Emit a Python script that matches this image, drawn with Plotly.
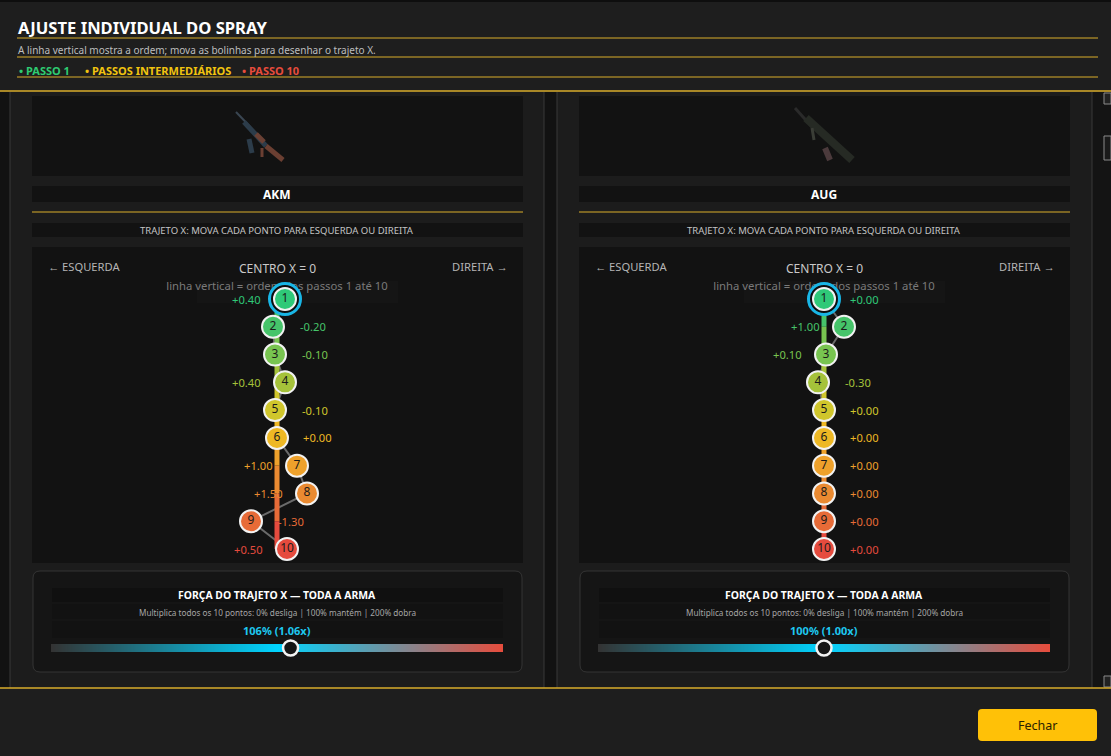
import plotly.graph_objects as go

W, H = 1111, 756
FONT = "Noto Sans"
YEL = "#d9ad2b"

# ---- data ----
steps = [1, 2, 3, 4, 5, 6, 7, 8, 9, 10]
akm_offsets = [0.40, -0.20, -0.10, 0.40, -0.10, 0.00, 1.00, 1.50, -1.30, 0.50]
aug_offsets = [0.00, 1.00, 0.10, -0.30, 0.00, 0.00, 0.00, 0.00, 0.00, 0.00]
step_colors = ["#2fc978", "#46c46a", "#78c450", "#a5c23a", "#d0c62c",
               "#eeb824", "#eea12b", "#ea8a31", "#e76b37", "#e54b3e"]
weapons = ["AKM", "AUG"]
strengths = [106, 100]  # percent
strength_ticks = [0, 100, 200]

legend_labels = ["PASSO 1", "PASSOS INTERMEDIÁRIOS", "PASSO 10"]
legend_colors = ["#2ecc71", "#f1c40f", "#e74c3c"]
legend_x = [17, 83, 240]

title = "AJUSTE INDIVIDUAL DO SPRAY"
subtitle = "A linha vertical mostra a ordem; mova as bolinhas para desenhar o trajeto X."

# panel geometry (pixels)
box_left = [32, 579]
box_right = [523, 1070]
PX_PER_UNIT = 20
STEP_TOP, STEP_BOTTOM = 299, 549
CHART_TOP, CHART_BOTTOM = 247, 563


def rrect(x0, y0, x1, y1, r):
    return (f"M{x0+r},{y0} L{x1-r},{y0} Q{x1},{y0} {x1},{y0+r} L{x1},{y1-r} "
            f"Q{x1},{y1} {x1-r},{y1} L{x0+r},{y1} Q{x0},{y1} {x0},{y1-r} "
            f"L{x0},{y0+r} Q{x0},{y0} {x0+r},{y0} Z")


def xdom(x0, x1):
    return [x0 / W, x1 / W]


def ydom(y0, y1):
    return [1 - y1 / H, 1 - y0 / H]


fig = go.Figure()
shapes = []
ann = []


def rect(x0, y0, x1, y1, fill, line=None, lw=0):
    shapes.append(dict(type="rect", xref="x", yref="y", x0=x0, y0=y0, x1=x1, y1=y1,
                       fillcolor=fill, line=dict(color=line or fill, width=lw), layer="below"))


def hline(y, x0, x1, color, width=1):
    shapes.append(dict(type="line", xref="x", yref="y", x0=x0, x1=x1, y0=y, y1=y,
                       line=dict(color=color, width=width), layer="below"))


def vline(x, y0, y1, color, width=1):
    shapes.append(dict(type="line", xref="x", yref="y", x0=x, x1=x, y0=y0, y1=y1,
                       line=dict(color=color, width=width), layer="below"))


def text(x, y, s, size, color, anchor="center", bold=False):
    ann.append(dict(xref="x", yref="y", x=x, y=y, text=f"<b>{s}</b>" if bold else s,
                    showarrow=False, xanchor=anchor, yanchor="middle",
                    font=dict(family=FONT, size=size, color=color)))


# ---- header ----
rect(0, 0, W, 91, "#1e1e1e")
rect(0, 0, W, 2, "#0e0e0e")
text(16, 27, title, 16.6, "#ffffff", "left", True)
text(16, 50, subtitle, 10, "#bdbdbd", "left")
for lab, col, lx in zip(legend_labels, legend_colors, legend_x):
    text(lx, 70, "• " + lab, 11, col, "left", True)
for yy in [38, 57, 77]:
    hline(yy, 17, 1098, YEL, 1)

# ---- body backgrounds ----
rect(0, 92, 10, 688, "#121212")
rect(544, 92, 557, 688, "#121212")
rect(1092, 92, W, 688, "#141414")
for xx in [10, 544, 557, 1092]:
    vline(xx, 92, 688, "#383838", 1)
hline(91, 0, W, YEL, 1.5)

# scrollbar bits
rect(1104, 93, W, 104, "#222222", "#8a8a8a", 1)
rect(1104, 136, W, 160, "#1a1a1a", "#8a8a8a", 1)
rect(1104, 676, W, 687, "#222222", "#8a8a8a", 1)

# ---- footer ----
rect(0, 689, W, H, "#1e1e1e")
hline(688, 0, W, YEL, 1.5)
shapes.append(dict(type="path", xref="x", yref="y", path=rrect(978, 709, 1097, 741, 4),
                   fillcolor="#ffc107", line=dict(color="#ffc107", width=0), layer="below"))
text(1037.5, 725, "Fechar", 12.5, "#2a2000")

# ---- panels ----
for p, (name, strength) in enumerate(zip(weapons, strengths)):
    bl, br = box_left[p], box_right[p]
    cx = bl + 245
    rect(bl, 96, br, 176, "#121212")
    rect(bl, 186, br, 202, "#121212")
    text(cx, 194, name, 12, "#ffffff", bold=True)
    hline(212, bl, br, YEL, 1.2)
    rect(bl, 223, br, 237, "#121212")
    text(cx, 230, "TRAJETO X: MOVA CADA PONTO PARA ESQUERDA OU DIREITA", 9.5, "#c4c4c4")
    rect(bl, CHART_TOP, br, CHART_BOTTOM, "#121212")
    rect(cx - 80, 281, cx + 121, 303, "#151515")
    text(bl + 14, 266, "← ESQUERDA", 11.2, "#b5b5b5", "left")
    text(br - 13, 266, "DIREITA →", 11.2, "#b5b5b5", "right")
    text(cx, 268, "CENTRO X = 0", 12, "#c9c9c9")

    # slider card
    shapes.append(dict(type="path", xref="x", yref="y", path=rrect(bl + 1, 571, br - 1, 672, 7),
                       fillcolor="#151515", line=dict(color="#343434", width=1), layer="below"))
    rect(bl + 20, 588, br - 20, 602, "#101010")
    rect(bl + 20, 604, br - 20, 619, "#121212")
    rect(bl + 20, 621, br - 20, 638, "#121212")
    text(cx, 595, "FORÇA DO TRAJETO X — TODA A ARMA", 10.4, "#ffffff", bold=True)
    text(cx, 612, "Multiplica todos os 10 pontos: 0% desliga | 100% mantém | 200% dobra", 8.2, "#a6a6a6")
    text(cx, 630, f"{strength}% ({strength / 100:.2f}x)", 11, "#1ec8f0", bold=True)

    # "linha vertical" sits under the circles, so it is a trace on the base axes
    fig.add_trace(go.Scatter(x=[cx], y=[287], mode="text", text=["linha vertical = ordem dos passos 1 até 10"],
                             textfont=dict(family=FONT, size=11.3, color="#7a7a7a"),
                             xaxis="x", yaxis="y", hoverinfo="skip"))

# gun icons (rough drawings)
gun_lines = [
    # AKM
    (236, 112, 262, 139, "#3a4652", 2), (244, 122, 266, 146, "#2c3c4a", 5),
    (256, 134, 264, 142, "#6a4034", 5), (249, 139, 252, 153, "#2c3c4a", 5),
    (266, 146, 283, 160, "#6b3f32", 5), (262, 148, 262, 157, "#6b3f32", 3),
    # AUG
    (795, 108, 812, 127, "#2a2a2a", 3), (806, 118, 852, 160, "#262a24", 8),
    (812, 128, 814, 140, "#3a3d36", 3), (825, 148, 830, 160, "#4b3a3c", 6),
]
for x0, y0, x1, y1, col, lw in gun_lines:
    shapes.append(dict(type="line", xref="x", yref="y", x0=x0, y0=y0, x1=x1, y1=y1,
                       line=dict(color=col, width=lw), layer="below"))

# ---- spray charts ----
step_px = (STEP_BOTTOM - STEP_TOP) / 9
y_range = [10 + (CHART_BOTTOM - STEP_BOTTOM) / step_px, 1 - (STEP_TOP - CHART_TOP) / step_px]
layout_axes = {}
for p, offsets in enumerate([akm_offsets, aug_offsets]):
    ax = str(p + 2)
    bl, br = box_left[p], box_right[p]
    cx = bl + 245
    layout_axes["xaxis" + ax] = dict(domain=xdom(bl, br), range=[-(cx - bl) / PX_PER_UNIT, (br - cx) / PX_PER_UNIT],
                                     visible=False, fixedrange=True, anchor="y" + ax)
    layout_axes["yaxis" + ax] = dict(domain=ydom(CHART_TOP, CHART_BOTTOM), range=y_range,
                                     visible=False, fixedrange=True, anchor="x" + ax)
    xa, ya = "x" + ax, "y" + ax
    # actual trajectory
    fig.add_trace(go.Scatter(x=offsets, y=steps, mode="lines", line=dict(color="#6a6a6a", width=2),
                             xaxis=xa, yaxis=ya, hoverinfo="skip"))
    # order line at the centre
    for i in range(len(steps) - 1):
        fig.add_trace(go.Scatter(x=[0, 0], y=[steps[i], steps[i + 1]], mode="lines",
                                 line=dict(color=step_colors[i + 1], width=5),
                                 xaxis=xa, yaxis=ya, hoverinfo="skip"))
    # selection ring on step 1
    fig.add_trace(go.Scatter(x=[offsets[0]], y=[steps[0]], mode="markers",
                             marker=dict(size=31, color="#0e0e0e", line=dict(color="#19b6e6", width=3)),
                             xaxis=xa, yaxis=ya, hoverinfo="skip", cliponaxis=False))
    fig.add_trace(go.Scatter(x=offsets, y=steps, mode="markers+text", text=[str(s) for s in steps],
                             textposition="middle center",
                             textfont=dict(family=FONT, size=12, color="#1b1b1b"),
                             marker=dict(size=22, color=step_colors, line=dict(color="#f2f2f2", width=2)),
                             xaxis=xa, yaxis=ya, hoverinfo="skip", cliponaxis=False))
    for v, s, col in zip(offsets, steps, step_colors):
        ann.append(dict(xref=xa, yref=ya, x=v, y=s, text=f"{v:+.2f}", showarrow=False,
                        xshift=-39 if v > 0 else 40, font=dict(family=FONT, size=11.2, color=col)))

# ---- strength sliders ----
for p, strength in enumerate(strengths):
    ax = str(p + 4)
    bl, br = box_left[p], box_right[p]
    layout_axes["xaxis" + ax] = dict(domain=xdom(bl + 19, br - 20), range=[strength_ticks[0], strength_ticks[-1]],
                                     visible=False, fixedrange=True, anchor="y" + ax)
    layout_axes["yaxis" + ax] = dict(domain=ydom(644, 652), range=[0, 1],
                                     visible=False, fixedrange=True, anchor="x" + ax)
    fig.add_trace(go.Heatmap(x=strength_ticks, y=[0, 1], z=[[0, 1, 2], [0, 1, 2]], zsmooth="best",
                             colorscale=[[0, "#333333"], [0.5, "#00d4ff"], [1, "#e74c3c"]],
                             showscale=False, hoverinfo="skip", xaxis="x" + ax, yaxis="y" + ax))
    fig.add_trace(go.Scatter(x=[strength], y=[0.5], mode="markers",
                             marker=dict(size=15, color="#161616", line=dict(color="#f2f2f2", width=2.5)),
                             xaxis="x" + ax, yaxis="y" + ax, hoverinfo="skip", cliponaxis=False))

fig.update_layout(
    width=W, height=H, autosize=False,
    margin=dict(l=0, r=0, t=0, b=0, pad=0),
    paper_bgcolor="#1c1c1c", plot_bgcolor="rgba(0,0,0,0)",
    showlegend=False, hovermode=False,
    xaxis=dict(domain=[0, 1], range=[0, W], visible=False, fixedrange=True),
    yaxis=dict(domain=[0, 1], range=[H, 0], visible=False, fixedrange=True),
    shapes=shapes, annotations=ann,
    font=dict(family=FONT),
    **layout_axes,
)

fig.write_html("out.html", config={"displayModeBar": False},
               post_script="document.body.style.margin='0';document.body.style.overflow='hidden';")
